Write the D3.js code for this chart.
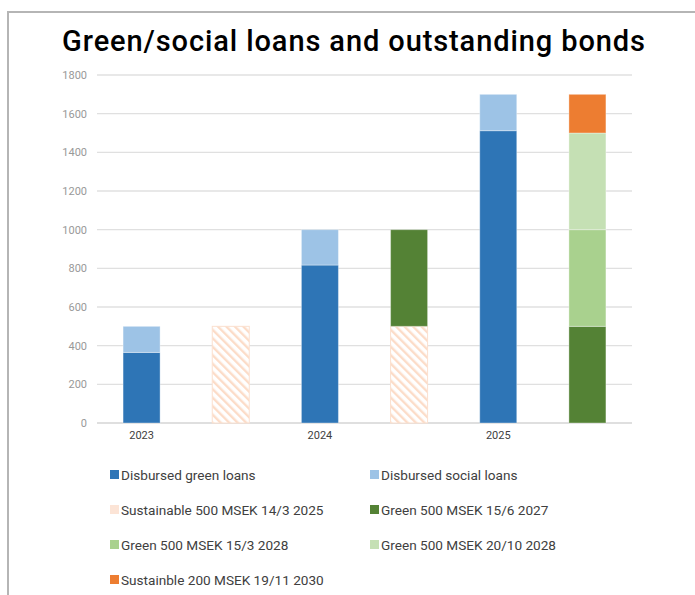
<!DOCTYPE html>
<html>
<head>
<meta charset="utf-8">
<script src="https://cdn.jsdelivr.net/npm/d3@7"></script>
<style>
  body { margin: 0; background: #fff; }
  svg { display: block; font-family: Roboto, "Noto Sans", sans-serif; }
</style>
</head>
<body>
<svg id="chart" width="695" height="595"></svg>
<script>
// categories (6 columns, year label shown under every other one)
const columns = ["c1", "c2", "c3", "c4", "c5", "c6"];
const columnLabels = ["2023", "", "2024", "", "2025", ""];

// series, stacking order bottom -> top
const seriesNames = [
  "Disbursed green loans",
  "Disbursed social loans",
  "Sustainable 500 MSEK 14/3 2025",
  "Green 500 MSEK 15/6 2027",
  "Green 500 MSEK 15/3 2028",
  "Green 500 MSEK 20/10 2028",
  "Sustainble 200 MSEK 19/11 2030"
];
const greenLoans    = [365, 0, 817, 0, 1512, 0];
const socialLoans   = [135, 0, 183, 0, 188, 0];
const sust2025      = [0, 500, 0, 500, 0, 0];
const green2027     = [0, 0, 0, 500, 0, 500];
const green2028a    = [0, 0, 0, 0, 0, 500];
const green2028b    = [0, 0, 0, 0, 0, 500];
const sust2030      = [0, 0, 0, 0, 0, 200];

const yTicks = [0, 200, 400, 600, 800, 1000, 1200, 1400, 1600, 1800];

const colors = ["#2e75b6", "#9dc3e6", "#fce4d6", "#548235", "#a9d18e", "#c5e0b4", "#ed7d31"];

const seriesValues = [greenLoans, socialLoans, sust2025, green2027, green2028a, green2028b, sust2030];
const table = columns.map((c, i) => {
  const row = { col: c };
  seriesNames.forEach((s, k) => row[s] = seriesValues[k][i]);
  return row;
});

const svg = d3.select("#chart");

// frame
svg.append("path")
  .attr("d", "M8,595 L8,12 L695,12")
  .attr("fill", "none")
  .attr("stroke", "#b5b5b5")
  .attr("stroke-width", 2);

// title
svg.append("text")
  .attr("x", 354).attr("y", 51)
  .attr("text-anchor", "middle")
  .attr("font-size", 29)
  .attr("font-weight", 500)
  .attr("letter-spacing", 0.9)
  .attr("fill", "#000")
  .text("Green/social loans and outstanding bonds");

// hatch pattern
const defs = svg.append("defs");
const pat = defs.append("pattern")
  .attr("id", "hatch")
  .attr("patternUnits", "userSpaceOnUse")
  .attr("width", 6).attr("height", 6)
  .attr("patternTransform", "rotate(-45)");
pat.append("rect").attr("width", 6).attr("height", 6).attr("fill", "#fff");
pat.append("rect").attr("x", 0).attr("width", 2.4).attr("height", 6).attr("fill", "#fcdcc8");

const x = d3.scaleBand().domain(columns).range([97, 632]).paddingInner(0.585).paddingOuter(0.2925);
const y = d3.scaleLinear().domain([0, 1800]).range([423, 75]);

// gridlines
svg.append("g")
  .selectAll("line")
  .data(yTicks)
  .join("line")
  .attr("x1", 97).attr("x2", 632)
  .attr("y1", d => y(d)).attr("y2", d => y(d))
  .attr("stroke", d => d === 0 ? "#d4d4d4" : "#e0e0e0")
  .attr("stroke-width", 1.3);

// y axis labels
const yAxis = svg.append("g")
  .attr("transform", "translate(87,0)")
  .call(d3.axisLeft(y).tickValues(yTicks).tickFormat(d3.format("d")).tickSize(0).tickPadding(0));
yAxis.select(".domain").remove();
yAxis.selectAll("text")
  .attr("font-family", "Roboto, sans-serif")
  .attr("font-size", 11)
  .attr("fill", "#999");

// x axis labels
const xAxis = svg.append("g")
  .attr("transform", "translate(0,429)")
  .call(d3.axisBottom(x).tickFormat((d, i) => columnLabels[i]).tickSize(0).tickPadding(2));
xAxis.select(".domain").remove();
xAxis.selectAll("text")
  .attr("font-family", "Roboto, sans-serif")
  .attr("font-size", 11)
  .attr("fill", "#404040");

// stacked bars
const stack = d3.stack().keys(seriesNames)(table);
svg.append("g")
  .selectAll("g")
  .data(stack)
  .join("g")
  .each(function(layer, k) {
    d3.select(this).selectAll("rect")
      .data(layer.filter(d => d[1] - d[0] > 0))
      .join("rect")
      .attr("x", d => x(d.data.col))
      .attr("width", x.bandwidth())
      .attr("y", d => y(d[1]))
      .attr("height", d => y(d[0]) - y(d[1]))
      .attr("fill", k === 2 ? "url(#hatch)" : colors[k])
      .attr("stroke", k === 2 ? "#fbe0cf" : "rgba(255,255,255,0.35)")
      .attr("stroke-width", 1);
  });

// legend
const legendPos = [
  [110, 475], [370, 475],
  [110, 510], [370, 510],
  [110, 545], [370, 545],
  [110, 580]
];
const legend = svg.append("g")
  .selectAll("g")
  .data(seriesNames)
  .join("g")
  .attr("transform", (d, i) => `translate(${legendPos[i][0]},${legendPos[i][1]})`);
legend.append("rect")
  .attr("x", 0).attr("y", -5)
  .attr("width", 9).attr("height", 9)
  .attr("fill", (d, i) => colors[i]);
legend.append("text")
  .attr("x", 11).attr("y", 5)
  .attr("font-size", 13.6)
  .attr("fill", "#404040")
  .text(d => d);
</script>
</body>
</html>
